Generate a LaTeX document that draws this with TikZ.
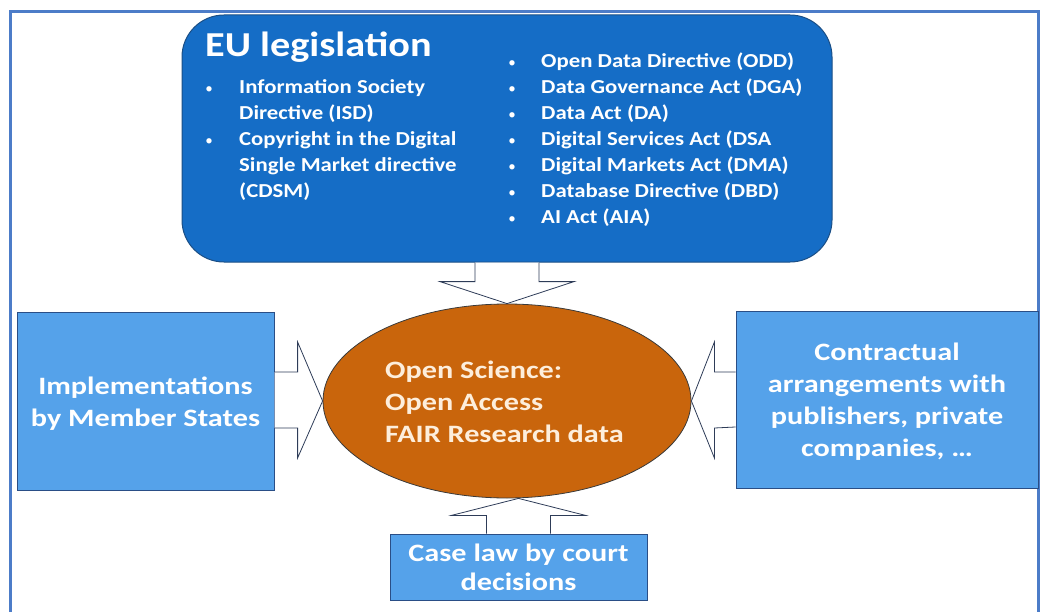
\documentclass[tikz,border=0pt]{standalone}
\usepackage{fontspec}
\setmainfont{Carlito}
\newfontfamily\listfont{Carlito}[FakeStretch=1.15]
\newfontfamily\wordfont{Carlito}[FakeStretch=1.21]
\usetikzlibrary{calc,shapes.geometric}

\definecolor{framecol}{HTML}{4C7CC8}
\definecolor{eublue}{HTML}{156DC6}
\definecolor{euedge}{HTML}{1B4F86}
\definecolor{boxblue}{HTML}{55A2EA}
\definecolor{boxedge}{HTML}{2A4E86}
\definecolor{osfill}{HTML}{C9650C}
\definecolor{osedge}{HTML}{3A3A3A}
\definecolor{ostext}{HTML}{FDEEDC}
\definecolor{arrowedge}{HTML}{2E3C58}

\tikzset{
  eubox/.style={draw=euedge, line width=1pt, fill=eublue, rounded corners=42pt,
    inner sep=0pt},
  sidebox/.style={draw=boxedge, line width=1pt, fill=boxblue, inner sep=0pt},
  osbox/.style={ellipse, draw=osedge, line width=0.8pt, fill=osfill, inner sep=0pt},
  blockarrow/.style={draw=arrowedge, line width=0.8pt, fill=white, line join=miter},
  title/.style={anchor=base west, inner sep=0pt, text=white,
    font=\listfont\bfseries\fontsize{35}{40}\selectfont},
  listtxt/.style={anchor=base west, inner sep=0pt, text=white,
    font=\listfont\bfseries\fontsize{19.8}{26}\selectfont},
  bul/.style={anchor=base, inner sep=0pt, text=white,
    font=\fontsize{15}{15}\selectfont},
  bigtxt/.style={anchor=base, inner sep=0pt, text=white,
    font=\wordfont\bfseries\fontsize{25}{32}\selectfont},
  ostxt/.style={anchor=base west, inner sep=0pt, text=ostext,
    font=\wordfont\bfseries\fontsize{25}{32}\selectfont},
}

\begin{document}
\begin{tikzpicture}[x=1pt, y=-1pt]
\useasboundingbox (0,0) rectangle (1040,612);
\clip (0,0) rectangle (1040,612);

% page frame
\draw[framecol, line width=3pt] (10,12) rectangle (1038,640);

% main shapes
\node[eubox, minimum width=650pt, minimum height=247pt] (eu) at (507,138.5) {};
\node[osbox, minimum width=368pt, minimum height=194pt] (os) at (507,401) {};
\node[sidebox, minimum width=257pt, minimum height=178pt] (impl) at (145.5,401) {};
\node[sidebox, minimum width=302pt, minimum height=177pt] (ctr) at (887,400) {};
\node[sidebox, minimum width=257pt, minimum height=66pt] (case) at (518.5,567) {};

% block arrows pointing at the ellipse
\draw[blockarrow] ($(eu.south)+(-32,0)$) -- ($(os.north)+(-32,-22)$)
  -- ($(os.north)+(-67,-22)$) -- (os.north) -- ($(os.north)+(67,-22)$)
  -- ($(os.north)+(32,-22)$) -- ($(eu.south)+(32,0)$);
\draw[blockarrow] ($(impl.east)+(0,-29)$) -- ($(os.west)+(-25,-29)$)
  -- ($(os.west)+(-25,-59)$) -- (os.west) -- ($(os.west)+(-25,57)$)
  -- ($(os.west)+(-25,27)$) -- ($(impl.east)+(0,27)$);
\draw[blockarrow] ($(ctr.west)+(0,-28)$) -- ($(os.east)+(23,-29)$)
  -- ($(os.east)+(23,-59)$) -- (os.east) -- ($(os.east)+(23,57)$)
  -- ($(os.east)+(23,27)$) -- ($(ctr.west)+(0,27)$);
\coordinate (tip) at (case.north |- os.south);
\draw[blockarrow] ($(case.north)+(-32,0)$) -- ($(tip)+(-32,17)$)
  -- ($(tip)+(-67,17)$) -- (tip) -- ($(tip)+(67,17)$)
  -- ($(tip)+(32,17)$) -- ($(case.north)+(32,0)$);

% EU legislation box contents
\node[title] (eutitle) at (205,57) {EU legislation};

\node[bul] (lb1) at (209,93.5) {\textbullet};
\node[bul] (lb2) at (209,145.5) {\textbullet};
\foreach \t [count=\i] in {{Information Society},{Directive (ISD)},
    {Copyright in the Digital},{Single Market directive},{(CDSM)}}
  \node[listtxt] (l\i) at (239,{67.5+26*\i}) {\t};

\foreach \t [count=\i] in {{Open Data Directive (ODD)},{Data Governance Act (DGA)},
    {Data Act (DA)},{Digital Services Act (DSA},{Digital Markets Act (DMA)},
    {Database Directive (DBD)},{AI Act (AIA)}} {
  \node[bul] (rb\i) at (512,{41.5+26*\i}) {\textbullet};
  \node[listtxt] (r\i) at (541,{41.5+26*\i}) {\t};
}

% ellipse text
\node[ostxt] (os1) at (385,378) {Open Science:};
\node[ostxt] (os2) at (385,410) {Open Access};
\node[ostxt] (os3) at (385,442) {FAIR Research data};

% side box texts
\node[bigtxt] (im1) at (145.5,394) {Implementations};
\node[bigtxt] (im2) at (145.5,426) {by Member States};

\node[bigtxt] (ct1) at (887,360) {Contractual};
\node[bigtxt] (ct2) at (887,392) {arrangements with};
\node[bigtxt] (ct3) at (887,424) {publishers, private};
\node[bigtxt] (ct4) at (887,456) {companies, \dots};

\node[bigtxt] (cs1) at (518.5,561.5) {Case law by court};
\node[bigtxt] (cs2) at (518.5,590.5) {decisions};
\end{tikzpicture}
\end{document}
